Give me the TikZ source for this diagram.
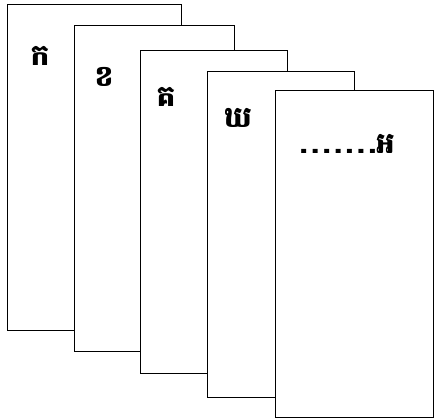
\documentclass[tikz,border=0pt]{standalone}
\usepackage{fontspec}
\newfontfamily\khmer[Script=Khmer]{Battambang}
\newcommand{\wdot}{.\kern3.8pt}
\begin{document}
\begin{tikzpicture}[x=1pt,y=-1pt,
  card/.style={draw=black,fill=white,line width=1.3pt,anchor=north west,inner sep=0pt},
  lbl/.style={font=\khmer\fontsize{29}{34}\selectfont\bfseries,inner sep=0pt}]
\useasboundingbox (0,0) rectangle (434,420);
\node[card,minimum width=174pt,minimum height=326pt] (c1) at (7,4) {};
\node[card,minimum width=160pt,minimum height=326pt] (c2) at (74,25) {};
\node[card,minimum width=147pt,minimum height=323pt] (c3) at (140,50) {};
\node[card,minimum width=147pt,minimum height=326pt] (c4) at (207,71) {};
\node[card,minimum width=158pt,minimum height=327pt] (c5) at (275,90) {};
\node[lbl] (t1) at (40,56) {ក};
\node[lbl] (t2) at (104,77) {ខ};
\node[lbl] (t3) at (166,97) {គ};
\node[lbl] (t4) at (238,118) {ឃ};
\node[lbl] (t5) at (347,144) {\wdot\wdot\wdot\wdot\wdot\wdot.អ};
\end{tikzpicture}
\end{document}
